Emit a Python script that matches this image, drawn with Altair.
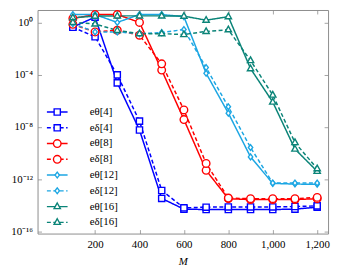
import altair as alt
import pandas as pd

# ---------------- data (log10 of the errors) ----------------
M = [100, 200, 300, 400, 500, 600, 700, 800, 900, 1000, 1100, 1200]

series_names = ["eθ[4]", "eδ[4]", "eθ[8]", "eδ[8]",
                "eθ[12]", "eδ[12]", "eθ[16]", "eδ[16]"]

e_theta_4 = [-0.35, 0.40, -4.63, -8.24, -13.48, -14.30, -14.33, -14.33, -14.33, -14.33, -14.30, -14.15]
e_delta_4 = [-0.37, -1.10, -4.02, -7.56, -12.87, -14.20, -14.15, -14.13, -14.13, -14.13, -14.10, -14.05]
e_theta_8 = [0.30, 0.60, 0.60, 0.00, -3.65, -7.44, -11.33, -13.50, -13.57, -13.57, -13.57, -13.50]
e_delta_8 = [-0.15, -0.73, -0.60, -0.98, -3.17, -6.70, -10.80, -13.45, -13.50, -13.50, -13.50, -13.40]
e_theta_12 = [0.60, 0.60, 0.00, 0.60, 0.60, 0.44, -3.90, -6.95, -10.30, -12.33, -12.38, -12.40]
e_delta_12 = [-0.10, -0.73, -0.73, -0.86, -0.78, -0.54, -3.46, -6.46, -9.58, -12.30, -12.30, -12.30]
e_theta_16 = [0.36, 0.48, 0.50, 0.50, 0.50, 0.48, 0.17, 0.44, -3.54, -6.10, -9.70, -11.40]
e_delta_16 = [0.00, -0.12, -0.61, -0.86, -0.86, -0.93, -0.69, -0.56, -2.92, -5.56, -9.20, -11.20]

all_series = [e_theta_4, e_delta_4, e_theta_8, e_delta_8,
              e_theta_12, e_delta_12, e_theta_16, e_delta_16]

colors = ["#0000FF", "#0000FF", "#FF0000", "#FF0000",
          "#1CA6E3", "#1CA6E3", "#0B8478", "#0B8478"]
dashes = [[1, 0], [4, 2.5]] * 4
# invisible zero-length anchors at top/bottom give every legend row the same height
PAD = "M0,-0.61L0,-0.61M0,0.61L0,0.61"
square = PAD + "M-0.45,-0.45H0.45V0.45H-0.45Z"
circle = PAD + "M0.55,0A0.55,0.55,0,1,1,-0.55,0A0.55,0.55,0,1,1,0.55,0Z"
diamond = PAD + "M0,-0.42L0.32,0L0,0.42L-0.32,0Z"
triangle = PAD + "M0,-0.52L0.46,0.3L-0.46,0.3Z"
shapes = [square, square, circle, circle, diamond, diamond, triangle, triangle]
legend_line = "M-1.5,-0.61L-1.5,-0.61M-1.5,0.61L-1.5,0.61M-1.5,0H1.5"

x_ticks = [200, 400, 600, 800, 1000, 1200]
y_ticks = [1e-16, 1e-12, 1e-8, 1e-4, 1.0]

# marker legend uses its own keys so it stays a separate (label-less) legend
marker_keys = [n + " " for n in series_names]

rows = []
for name, key, vals in zip(series_names, marker_keys, all_series):
    for m, v in zip(M, vals):
        rows.append({"M": m, "err": 10 ** v, "series": name, "series_p": key})
df = pd.DataFrame(rows)

SERIF = "Liberation Serif"
W, H = 295, 227
FRAME = "#8c8c8c"

xscale = alt.Scale(domain=[-59, 1249], nice=False, zero=False)
yscale = alt.Scale(type="log", domain=[10 ** -16.17, 10 ** 0.95], nice=False)

y_label_expr = ("datum.value > 0.5 ? '10⁰' : datum.value > 1e-5 ? '10⁻⁴' : "
                "datum.value > 1e-9 ? '10⁻⁸' : datum.value > 1e-13 ? '10⁻¹²' : '10⁻¹⁶'")

legA = alt.Legend(orient="none", legendX=12, legendY=95.6, title=None,
                  symbolType=legend_line, symbolSize=196, symbolStrokeWidth=1.4,
                  labelFont=SERIF, labelFontSize=11, labelOffset=25, rowPadding=0,
                  padding=0, labelLimit=120, labelColor="black")
legB = alt.Legend(orient="none", legendX=12, legendY=95.6, title=None,
                  symbolSize=196, symbolStrokeWidth=1.4, symbolFillColor="white",
                  labelExpr="''", labelFontSize=11, labelOffset=25, rowPadding=0,
                  padding=0)

tick_axis = dict(labels=False, domain=False, grid=False, ticks=True,
                 tickSize=4, tickColor=FRAME, tickWidth=0.8, title=None)

lines = alt.Chart(df).mark_line(strokeWidth=1.5).encode(
    x=alt.X("M:Q", scale=xscale,
            axis=alt.Axis(values=x_ticks, format=",d", ticks=False, domain=False, grid=False,
                          labelFont=SERIF, labelFontSize=11, labelPadding=5, labelColor="black",
                          title="M", titleFont=SERIF, titleFontStyle="italic",
                          titleFontWeight="normal", titleFontSize=11, titlePadding=6,
                          titleColor="black")),
    y=alt.Y("err:Q", scale=yscale,
            axis=alt.Axis(values=y_ticks, labelExpr=y_label_expr, ticks=False, domain=False,
                          grid=False, labelFont=SERIF, labelFontSize=11, labelPadding=5,
                          labelColor="black", title=None)),
    color=alt.Color("series:N", scale=alt.Scale(domain=series_names, range=colors), legend=legA),
    strokeDash=alt.StrokeDash("series:N", scale=alt.Scale(domain=series_names, range=dashes),
                              legend=legA),
    order="M:Q",
)

points = alt.Chart(df).mark_point(size=196, filled=False, fill="white", fillOpacity=1,
                                  strokeWidth=1.4, opacity=1).encode(
    x=alt.X("M:Q", scale=xscale, axis=alt.Axis(orient="top", offset=-H, values=x_ticks, **tick_axis)),
    y=alt.Y("err:Q", scale=yscale, axis=alt.Axis(orient="right", offset=-W, values=y_ticks, **tick_axis)),
    stroke=alt.Stroke("series_p:N", scale=alt.Scale(domain=marker_keys, range=colors), legend=legB),
    shape=alt.Shape("series_p:N", scale=alt.Scale(domain=marker_keys, range=shapes), legend=legB),
)

ticks_other = alt.Chart(df).mark_point(opacity=0, size=1).encode(
    x=alt.X("M:Q", scale=xscale, axis=alt.Axis(orient="bottom", offset=-H, values=x_ticks, **tick_axis)),
    y=alt.Y("err:Q", scale=yscale, axis=alt.Axis(orient="left", offset=-W, values=y_ticks, **tick_axis)),
)

chart = alt.layer(lines, points, ticks_other).resolve_axis(
    x="independent", y="independent"
).properties(
    width=W, height=H,
    autosize=alt.AutoSizeParams(type="none"),
    padding={"left": 30, "top": 0, "right": 4, "bottom": 37},
).configure_view(stroke=FRAME, strokeWidth=1)

chart.save("out.html", embed_options={"renderer": "svg", "actions": False})
